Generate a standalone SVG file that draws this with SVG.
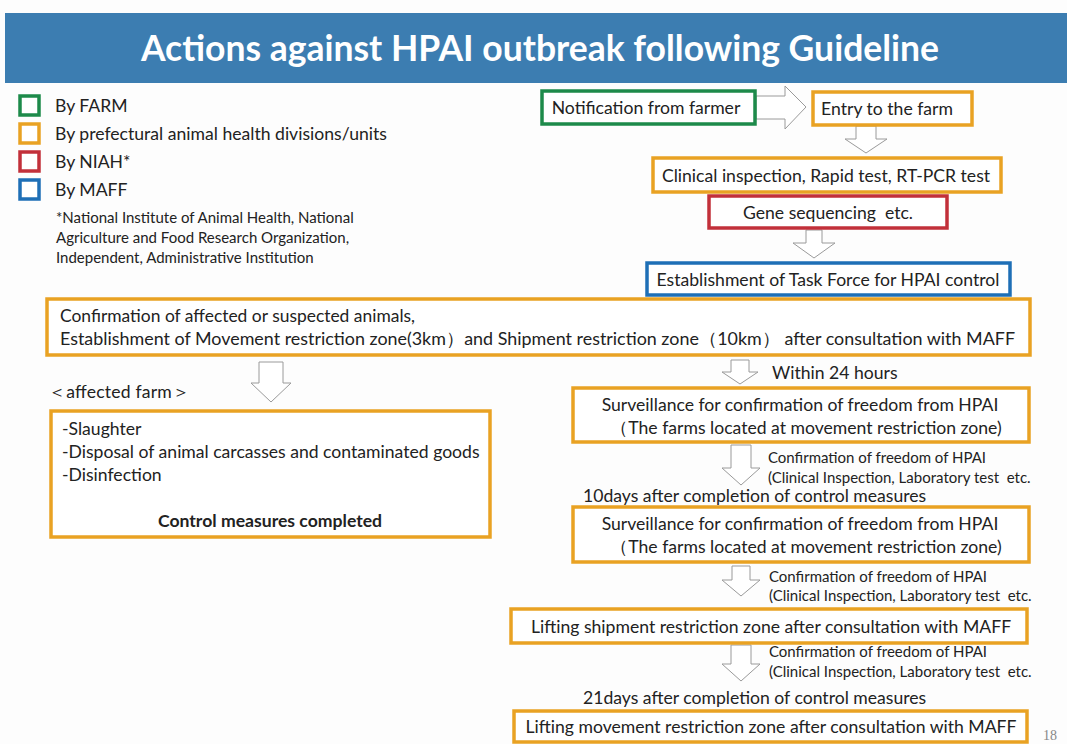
<svg xmlns="http://www.w3.org/2000/svg" width="1067" height="744" viewBox="0 0 1067 744">
  <style>
    .t { font-family: Lato, "Open Sans", "Liberation Sans", sans-serif; fill: #222; font-size: 17.6px; white-space: pre; }
    .s { font-size: 15px; }
    .fn { font-size: 15px; }
    .box { fill: #fff; stroke-width: 3.5; }
    .org { stroke: #e9a223; }
    .grn { stroke: #1d8a4a; }
    .red { stroke: #c2303a; }
    .blu { stroke: #1e6fb6; }
    .arr { fill: #fff; stroke: #9a9a9a; stroke-width: 1; }
  </style>
  <rect width="1067" height="744" fill="#fdfdfd"/>

  <!-- header -->
  <g id="header">
    <rect x="5" y="13" width="1062" height="70" fill="#3c7db1"/>
    <text x="540" y="61" text-anchor="middle" font-family="Lato, 'Open Sans', sans-serif" font-weight="bold" font-size="35.5" fill="#fff">Actions against HPAI outbreak following Guideline</text>
  </g>

  <!-- legend -->
  <g id="legend">
    <rect x="20" y="96" width="19" height="19" class="box grn"/>
    <rect x="20" y="124" width="19" height="19" class="box org"/>
    <rect x="20" y="152" width="19" height="19" class="box red"/>
    <rect x="20" y="180" width="19" height="19" class="box blu"/>
    <text class="t" x="55" y="112">By FARM</text>
    <text class="t" x="55" y="140">By prefectural animal health divisions/units</text>
    <text class="t" x="55" y="168">By NIAH*</text>
    <text class="t" x="55" y="196">By MAFF</text>
    <text class="t fn" x="56" y="223">*National Institute of Animal Health, National</text>
    <text class="t fn" x="56" y="243">Agriculture and Food Research Organization,</text>
    <text class="t fn" x="56" y="263">Independent, Administrative Institution</text>
  </g>

  <!-- connectors -->
  <g id="connectors">
    <path class="arr" d="M756,96 L785,96 L785,86 L806,107 L785,129 L785,119 L756,119 Z"/>
    <path class="arr" d="M856,126 L876,126 L876,139 L887,139 L866,153 L845,139 L856,139 Z"/>
    <path class="arr" d="M806,230 L822,230 L822,243 L835,243 L814,258 L793,243 L806,243 Z"/>
    <path class="arr" d="M259,362 L283,362 L283,383 L291,383 L271,402 L251,383 L259,383 Z"/>
    <path class="arr" d="M731,360 L749,360 L749,372 L758,372 L740,384 L722,372 L731,372 Z"/>
    <path class="arr" d="M260,469 L282,469 L282,487 L291,487 L271,505 L251,487 L260,487 Z"/>
    <path class="arr" d="M731,445 L751,445 L751,468 L760,468 L741,485 L722,468 L731,468 Z"/>
    <path class="arr" d="M732,566 L750,566 L750,580 L760,580 L741,596 L722,580 L732,580 Z"/>
    <path class="arr" d="M731,645 L751,645 L751,664 L760,664 L741,681 L722,664 L731,664 Z"/>
  </g>

  <g id="notification">
    <rect x="542" y="91" width="213" height="33" class="box grn"/>
    <text class="t" x="646" y="114" text-anchor="middle">Notification from farmer</text>
  </g>
  <g id="entry">
    <rect x="813" y="92" width="159" height="33" class="box org"/>
    <text class="t" x="887" y="115" text-anchor="middle">Entry to the farm</text>
  </g>
  <g id="clinical">
    <rect x="653" y="158" width="348" height="34" class="box org"/>
    <text class="t" x="826" y="182" text-anchor="middle">Clinical inspection, Rapid test, RT-PCR test</text>
  </g>
  <g id="gene">
    <rect x="709" y="196" width="238" height="32" class="box red"/>
    <text class="t" x="828" y="219" text-anchor="middle">Gene sequencing  etc.</text>
  </g>
  <g id="taskforce">
    <rect x="647" y="263" width="363" height="32" class="box blu"/>
    <text class="t" x="828" y="286" text-anchor="middle">Establishment of Task Force for HPAI control</text>
  </g>
  <g id="confirmation">
    <rect x="47" y="299" width="983" height="56" class="box org"/>
    <text class="t" x="60" y="322" textLength="355" lengthAdjust="spacingAndGlyphs">Confirmation of affected or suspected animals,</text>
    <text class="t" x="60" y="345" textLength="955" lengthAdjust="spacingAndGlyphs">Establishment of Movement restriction zone(3km）and Shipment restriction zone（10km） after consultation with MAFF</text>
  </g>
  <text class="t" x="48" y="398" textLength="142" lengthAdjust="spacing">＜affected farm＞</text>
  <text class="t" x="772" y="379">Within 24 hours</text>

  <g id="affected">
    <rect x="51" y="411" width="439" height="126" class="box org"/>
    <text class="t" x="62" y="435">-Slaughter</text>
    <text class="t" x="62" y="458">-Disposal of animal carcasses and contaminated goods</text>
    <text class="t" x="62" y="481">-Disinfection</text>
    <text class="t" x="270" y="527" font-weight="bold" text-anchor="middle">Control measures completed</text>
  </g>

  <g id="surveillance1">
    <rect x="573" y="388" width="456" height="54" class="box org"/>
    <text class="t" x="800" y="411" text-anchor="middle">Surveillance for confirmation of freedom from HPAI</text>
    <text class="t" x="806" y="434" text-anchor="middle">（The farms located at movement restriction zone)</text>
  </g>
  <text class="t s" x="768" y="463">Confirmation of freedom of HPAI</text>
  <text class="t s" x="768" y="483">(Clinical Inspection, Laboratory test  etc.</text>
  <text class="t" x="583" y="502">10days after completion of control measures</text>

  <g id="surveillance2">
    <rect x="573" y="507" width="456" height="55" class="box org"/>
    <text class="t" x="800" y="530" text-anchor="middle">Surveillance for confirmation of freedom from HPAI</text>
    <text class="t" x="806" y="553" text-anchor="middle">（The farms located at movement restriction zone)</text>
  </g>
  <text class="t s" x="769" y="582">Confirmation of freedom of HPAI</text>
  <text class="t s" x="769" y="601">(Clinical Inspection, Laboratory test  etc.</text>

  <g id="lifting-shipment">
    <rect x="511" y="609" width="516" height="34" class="box org"/>
    <text class="t" x="771" y="633" text-anchor="middle">Lifting shipment restriction zone after consultation with MAFF</text>
  </g>
  <text class="t s" x="769" y="657">Confirmation of freedom of HPAI</text>
  <text class="t s" x="769" y="677">(Clinical Inspection, Laboratory test  etc.</text>
  <text class="t" x="583" y="704">21days after completion of control measures</text>

  <g id="lifting-movement">
    <rect x="514" y="711" width="513" height="31" class="box org"/>
    <text class="t" x="771" y="733" text-anchor="middle">Lifting movement restriction zone after consultation with MAFF</text>
  </g>
  <text x="1043" y="740" font-family="'Liberation Serif', serif" font-size="14" fill="#888">18</text>
</svg>
